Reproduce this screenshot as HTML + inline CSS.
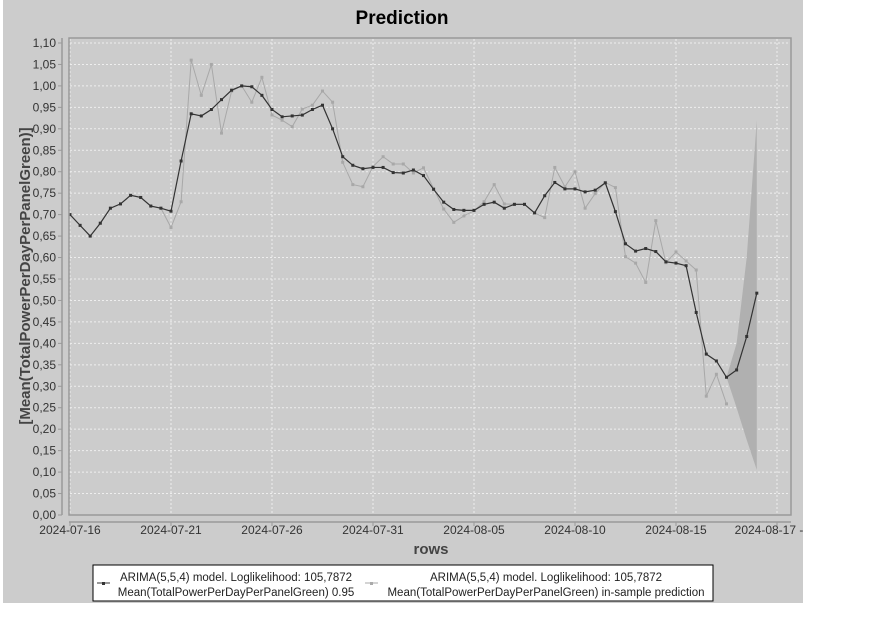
<!DOCTYPE html>
<html><head><meta charset="utf-8"><style>
body{margin:0;background:#fff;width:880px;height:639px;overflow:hidden;font-family:"Liberation Sans",sans-serif}
</style></head><body>
<svg id="chart" width="880" height="639" xmlns="http://www.w3.org/2000/svg" font-family="Liberation Sans, sans-serif">
<rect x="3" y="0" width="800" height="603" fill="#cccccc"/>
<text x="402" y="24" text-anchor="middle" font-size="19" font-weight="bold" fill="#000">Prediction</text>
<g id="grid"></g>
<g id="band"></g>
<g id="series"></g>
<rect x="69" y="38" width="722" height="477" fill="none" stroke="#999" stroke-width="1.5"/>
<g id="axes"></g>
<text x="431" y="554" text-anchor="middle" font-size="15" font-weight="bold" fill="#444">rows</text>
<text transform="translate(30,276) rotate(-90)" text-anchor="middle" font-size="15" font-weight="bold" fill="#444">[Mean(TotalPowerPerDayPerPanelGreen)]</text>
<g>
<rect x="93" y="565" width="620" height="36" fill="#fff" stroke="#000" stroke-width="1"/>
<line x1="97" y1="583" x2="110" y2="583" stroke="#333" stroke-width="1"/><rect x="102" y="582" width="3" height="3" fill="#333"/>
<text font-size="11.5" fill="#222" text-anchor="middle"><tspan x="236" y="581">ARIMA(5,5,4) model. Loglikelihood: 105,7872</tspan><tspan x="236" y="596">Mean(TotalPowerPerDayPerPanelGreen) 0.95</tspan></text>
<line x1="365" y1="583" x2="378" y2="583" stroke="#aaa" stroke-width="1"/><rect x="370" y="582" width="3" height="3" fill="#aaa"/>
<text font-size="11.5" fill="#222" text-anchor="middle"><tspan x="546" y="581">ARIMA(5,5,4) model. Loglikelihood: 105,7872</tspan><tspan x="546" y="596">Mean(TotalPowerPerDayPerPanelGreen) in-sample prediction</tspan></text>
</g>
</svg>
<script>
const yTicks=[0,0.05,0.1,0.15,0.2,0.25,0.3,0.35,0.4,0.45,0.5,0.55,0.6,0.65,0.7,0.75,0.8,0.85,0.9,0.95,1.0,1.05,1.1];
const xTickDays=[0,5,10,15,20,25,30,34.5];
const xTickLabels=["2024-07-16","2024-07-21","2024-07-26","2024-07-31","2024-08-05","2024-08-10","2024-08-15","2024-08-17 -"];
const mean=[0.70,0.675,0.65,0.68,0.715,0.725,0.745,0.74,0.72,0.715,0.708,0.825,0.935,0.93,0.945,0.968,0.99,1.0,0.998,0.978,0.945,0.928,0.93,0.932,0.945,0.955,0.90,0.835,0.815,0.807,0.81,0.81,0.798,0.797,0.804,0.791,0.759,0.729,0.712,0.71,0.71,0.724,0.729,0.715,0.724,0.724,0.704,0.744,0.775,0.76,0.76,0.753,0.757,0.774,0.707,0.632,0.615,0.621,0.614,0.59,0.587,0.581,0.472,0.375,0.359,0.321,0.338,0.416,0.517];
const inSample=[0.70,0.675,0.65,0.68,0.715,0.725,0.745,0.74,0.72,0.715,0.67,0.73,1.06,0.978,1.05,0.89,0.988,1.0,0.962,1.02,0.932,0.92,0.905,0.946,0.955,0.988,0.962,0.822,0.77,0.765,0.812,0.835,0.818,0.818,0.797,0.809,0.761,0.713,0.682,0.697,0.709,0.73,0.77,0.725,0.724,0.724,0.704,0.693,0.81,0.765,0.80,0.715,0.749,0.775,0.763,0.602,0.587,0.542,0.686,0.588,0.613,0.592,0.571,0.277,0.328,0.259];
const bandStart=65;
const bandUpper=[0.321,0.40,0.60,0.92];
const bandLower=[0.321,0.25,0.175,0.105];
const NS="http://www.w3.org/2000/svg";
const X0=70,PX_PER_PT=10.1,Y0=515,PX_PER_UNIT=429.1;
const xs=i=>X0+PX_PER_PT*i;
const xd=d=>X0+PX_PER_PT*2*d;
const ys=v=>Y0-PX_PER_UNIT*v;
function mk(tag,attrs,parent){const e=document.createElementNS(NS,tag);for(const k in attrs)e.setAttribute(k,attrs[k]);parent.appendChild(e);return e;}
const grid=document.getElementById('grid'),axes=document.getElementById('axes'),band=document.getElementById('band'),series=document.getElementById('series');
mk('line',{x1:62,y1:38,x2:62,y2:515,stroke:'#999','stroke-width':1.5},axes);
mk('line',{x1:69,y1:522,x2:791,y2:522,stroke:'#999','stroke-width':1.5},axes);
yTicks.forEach(v=>{const y=ys(v);
 const g=mk('line',{x1:70,y1:y,x2:790,y2:y,stroke:'#eee','stroke-dasharray':'2,2','stroke-width':1},grid);
 
 mk('line',{x1:58,y1:y,x2:62,y2:y,stroke:'#999'},axes);
 const t=mk('text',{x:56,y:y+4,'text-anchor':'end','font-size':12,fill:'#333'},axes);
 
 t.textContent=v.toFixed(2).replace('.',',');});
xTickDays.forEach((d,i)=>{const x=i===xTickDays.length-1?777:xd(d);
 const g=mk('line',{x1:x,y1:39,x2:x,y2:514,stroke:'#eee','stroke-dasharray':'2,2','stroke-width':1},grid);
 
 mk('line',{x1:x,y1:522,x2:x,y2:526,stroke:'#999'},axes);
 const t=mk('text',{x:i===xTickDays.length-1?769:x,y:534,'text-anchor':'middle','font-size':12,fill:'#333'},axes);
 
 t.textContent=xTickLabels[i];});
let pts=[];bandUpper.forEach((v,i)=>pts.push(xs(bandStart+i)+','+ys(v)));
for(let i=bandLower.length-1;i>=0;i--)pts.push(xs(bandStart+i)+','+ys(bandLower[i]));
const bp=mk('polygon',{points:pts.join(' '),fill:'#b0b0b0'},band);

function drawSeries(data,color,name,w){
 const p=mk('polyline',{points:data.map((v,i)=>xs(i)+','+ys(v)).join(' '),fill:'none',stroke:color,'stroke-width':w},series);
 
 data.forEach((v,i)=>{const r=mk('rect',{x:xs(i)-1.5,y:ys(v)-1.5,width:3,height:3,fill:color},series);
  });
}
drawSeries(inSample,'#a8a8a8','in-sample',1);
drawSeries(mean,'#333333','forecast',1.2);
</script>
</body></html>
